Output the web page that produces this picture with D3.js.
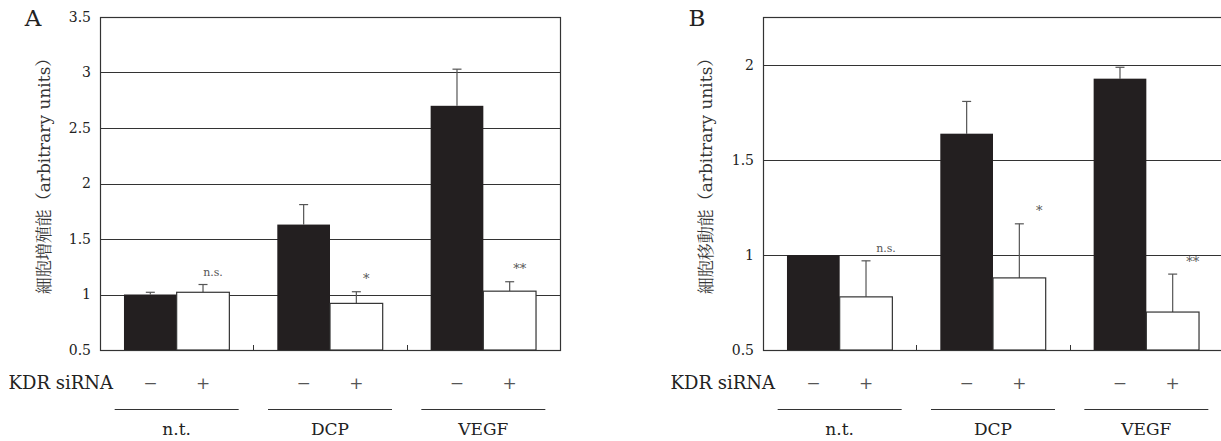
<!DOCTYPE html>
<html><head><meta charset="utf-8">
<script src="https://cdn.jsdelivr.net/npm/d3@7"></script>
<style>
html,body{margin:0;padding:0;background:#fff;}
svg{display:block;}
svg text{font-family:'DejaVu Serif','Noto Serif CJK JP','Noto Sans CJK JP',serif !important;}
</style></head>
<body>
<svg id="chart" width="1221" height="441"></svg>
<script>
const groups = ["n.t.", "DCP", "VEGF"];
const treatments = ["−", "+"];
const rowLabel = "KDR siRNA";

const aMinus = [1.00, 1.63, 2.70];
const aMinusErr = [0.02, 0.18, 0.33];
const aPlus = [1.02, 0.92, 1.03];
const aPlusErr = [0.07, 0.105, 0.085];
const aSig = ["n.s.", "*", "**"];
const aTicks = [0.5, 1, 1.5, 2, 2.5, 3, 3.5];
const aTickLabels = ["0.5", "1", "1.5", "2", "2.5", "3", "3.5"];

const bMinus = [1.00, 1.64, 1.93];
const bMinusErr = [0, 0.17, 0.06];
const bPlus = [0.78, 0.88, 0.70];
const bPlusErr = [0.19, 0.285, 0.20];
const bSig = ["n.s.", "*", "**"];
const bTicks = [0.5, 1, 1.5, 2];
const bTickLabels = ["0.5", "1", "1.5", "2"];

const svg = d3.select("#chart");

function panel(cfg) {
  const W = 460, top = 17, bottom = 350;
  const g = svg.append("g").attr("transform", `translate(${cfg.left},0)`);
  const y = d3.scaleLinear().domain(cfg.domain).range([bottom, top]);
  const x0 = d3.scaleBand().domain(groups).range([0, W]).padding(0);
  const x1 = d3.scaleBand().domain(treatments).range([0, x0.bandwidth()]).paddingInner(0).paddingOuter(0.455);

  g.selectAll(".grid").data(cfg.ticks).join("line")
    .attr("x1", 0).attr("x2", W)
    .attr("y1", d => Math.round(y(d)) + 0.5).attr("y2", d => Math.round(y(d)) + 0.5)
    .attr("stroke", "#333").attr("stroke-width", 1.2);
  g.append("rect").attr("x", 0.5).attr("y", top + 0.5).attr("width", W).attr("height", bottom - top)
    .attr("fill", "none").attr("stroke", "#333").attr("stroke-width", 1.2);
  g.selectAll(".ct").data(groups.slice(1)).join("line")
    .attr("x1", d => Math.round(x0(d)) + 0.5).attr("x2", d => Math.round(x0(d)) + 0.5)
    .attr("y1", bottom).attr("y2", bottom - 5).attr("stroke", "#333");

  const ax = d3.axisLeft(y).tickValues(cfg.ticks).tickSize(0).tickPadding(9)
    .tickFormat((d, i) => cfg.tickLabels[i]);
  const axg = g.append("g").call(ax).attr("font-family", null);
  axg.select(".domain").remove();
  axg.selectAll("text").attr("font-size", 14).attr("fill", "#222");

  const series = [
    {key: "−", vals: cfg.minus, errs: cfg.minusErr, fill: "#231f20"},
    {key: "+", vals: cfg.plus, errs: cfg.plusErr, fill: "#fff"}
  ];
  series.forEach(s => {
    const gx = d => x0(groups[d]) + x1(s.key);
    const idx = groups.map((_, i) => i);
    g.selectAll(null).data(idx.filter(i => s.errs[i] > 0)).join("line")
      .attr("x1", i => gx(i) + x1.bandwidth() / 2).attr("x2", i => gx(i) + x1.bandwidth() / 2)
      .attr("y1", i => y(s.vals[i])).attr("y2", i => y(s.vals[i] + s.errs[i]))
      .attr("stroke", "#555").attr("stroke-width", 1.2);
    g.selectAll(null).data(idx.filter(i => s.errs[i] > 0)).join("line")
      .attr("x1", i => gx(i) + x1.bandwidth() / 2 - 4.5).attr("x2", i => gx(i) + x1.bandwidth() / 2 + 4.5)
      .attr("y1", i => y(s.vals[i] + s.errs[i])).attr("y2", i => y(s.vals[i] + s.errs[i]))
      .attr("stroke", "#555").attr("stroke-width", 1.2);
    g.selectAll(null).data(idx).join("rect")
      .attr("x", i => gx(i)).attr("width", x1.bandwidth())
      .attr("y", i => y(s.vals[i])).attr("height", i => y(cfg.domain[0]) - y(s.vals[i]))
      .attr("fill", s.fill).attr("stroke", "#333").attr("stroke-width", s.fill === "#fff" ? 1.2 : 0);
  });

  g.selectAll(".sig").data(groups).join("text")
    .attr("x", (d, i) => x0(d) + x1("+") + x1.bandwidth() / 2 + cfg.sigDx)
    .attr("y", (d, i) => y(cfg.plus[i] + cfg.plusErr[i]) - cfg.sigDy)
    .attr("text-anchor", "middle").attr("dominant-baseline", "middle")
    .attr("font-size", (d, i) => cfg.sig[i] === "n.s." ? 11 : 13)
    .attr("fill", "#555")
    .text((d, i) => cfg.sig[i]);

  g.append("text").attr("x", cfg.letterX).attr("y", 26).attr("font-size", 23).attr("fill", "#222")
    .attr("text-anchor", "middle").text(cfg.letter);

  g.append("text").attr("transform", `translate(${cfg.titleX},172) rotate(-90)`)
    .attr("text-anchor", "middle").attr("dominant-baseline", "middle")
    .attr("font-size", 17).attr("fill", "#333")
    .text(cfg.title);

  g.append("text").attr("x", cfg.rowLabelX).attr("y", 389).attr("font-size", 18).attr("fill", "#222")
    .attr("text-anchor", "end").text(rowLabel);
  groups.forEach(gr => {
    g.selectAll(null).data(treatments).join("text")
      .attr("x", t => x0(gr) + x1(t) + x1.bandwidth() / 2).attr("y", 389)
      .attr("text-anchor", "middle").attr("font-size", 17).attr("fill", "#555")
      .text(t => t);
  });
  g.selectAll(".gl").data(groups).join("line")
    .attr("x1", d => x0(d) + x0.bandwidth() / 2 - 62).attr("x2", d => x0(d) + x0.bandwidth() / 2 + 62)
    .attr("y1", 409.5).attr("y2", 409.5).attr("stroke", "#333").attr("stroke-width", 1.2);
  g.selectAll(".glab").data(groups).join("text")
    .attr("x", d => x0(d) + x0.bandwidth() / 2).attr("y", 435)
    .attr("text-anchor", "middle").attr("font-size", 17).attr("fill", "#222")
    .text(d => d);
}

panel({left: 100, domain: [0.5, 3.5], ticks: aTicks, tickLabels: aTickLabels,
  minus: aMinus, minusErr: aMinusErr, plus: aPlus, plusErr: aPlusErr, sig: aSig,
  sigDx: 10, sigDy: 12, letter: "A", letterX: -67, titleX: -55,
  title: "細胞増殖能（arbitrary units）", rowLabelX: 13});

panel({left: 763, domain: [0.5, 2.255], ticks: bTicks, tickLabels: bTickLabels,
  minus: bMinus, minusErr: bMinusErr, plus: bPlus, plusErr: bPlusErr, sig: bSig,
  sigDx: 20, sigDy: 12, letter: "B", letterX: -66, titleX: -56,
  title: "細胞移動能（arbitrary units）", rowLabelX: 12});
</script>
</body></html>
